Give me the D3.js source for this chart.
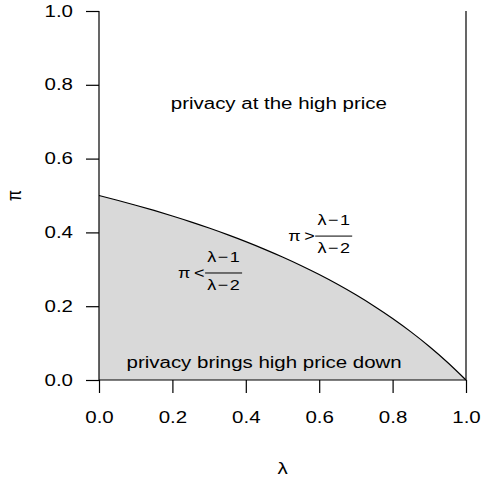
<!DOCTYPE html>
<html>
<head>
<meta charset="utf-8">
<script src="https://cdn.jsdelivr.net/npm/d3@7"></script>
<style>
  html, body { margin: 0; padding: 0; background: #fff; }
  svg text { font-family: "Liberation Sans", Arial, Helvetica, sans-serif; fill: #000; }
</style>
</head>
<body>
<svg id="chart" width="482" height="487"></svg>
<script>
// ---- data ----
const lambdaValues = [0, 0.05, 0.1, 0.15, 0.2, 0.25, 0.3, 0.35, 0.4, 0.45, 0.5, 0.55, 0.6, 0.65, 0.7, 0.75, 0.8, 0.85, 0.9, 0.95, 1.0];
const piValues = [0.5, 0.4872, 0.4737, 0.4595, 0.4444, 0.4286, 0.4118, 0.3939, 0.375, 0.3548, 0.3333, 0.3103, 0.2857, 0.2593, 0.2308, 0.2, 0.1667, 0.1304, 0.0909, 0.0476, 0];
const xTicks = [0, 0.2, 0.4, 0.6, 0.8, 1.0];
const yTicks = [0, 0.2, 0.4, 0.6, 0.8, 1.0];
const regionLabels = ["privacy at the high price", "privacy brings high price down"];
const regionLabelLambda = [0.49, 0.45];
const regionLabelPi = [0.75, 0.05];
const formulaOps = [">", "<"];
const formulaLambda = [0.60, 0.30];
const formulaPi = [0.39, 0.29];

// ---- layout ----
const SX = 1.28; // horizontal stretch of glyphs seen in the reference
const svg = d3.select("#chart");
const x = d3.scaleLinear().domain([0, 1]).range([99, 466]);
const y = d3.scaleLinear().domain([0, 1]).range([380, 11]);
const pts = lambdaValues.map((l, i) => [l, piValues[i]]);

function stretchedText(parent, px, py, str, anchor, size, sx) {
  return parent.append("text")
    .attr("transform", `translate(${px},${py}) scale(${sx || SX},1)`)
    .attr("text-anchor", anchor).attr("font-size", size).text(str);
}

// shaded region
const area = d3.area()
  .x(d => x(d[0])).y0(y(0)).y1(d => y(d[1]))
  .curve(d3.curveMonotoneX);
svg.append("path").datum(pts)
  .attr("d", area).attr("fill", "#d9d9d9").attr("stroke", "none");

// curve
const line = d3.line().x(d => x(d[0])).y(d => y(d[1])).curve(d3.curveMonotoneX);
svg.append("path").datum(pts)
  .attr("d", line).attr("fill", "none").attr("stroke", "#000").attr("stroke-width", 1.2);

// vertical line at lambda = 1
svg.append("line")
  .attr("x1", x(1)).attr("x2", x(1)).attr("y1", y(0)).attr("y2", y(1))
  .attr("stroke", "#000").attr("stroke-width", 1.2);

// axes
const xAxis = d3.axisBottom(x).tickValues(xTicks).tickFormat(d3.format(".1f")).tickSize(13).tickPadding(19);
const gx = svg.append("g").attr("transform", `translate(0,${y(0)})`).call(xAxis);
const yAxis = d3.axisLeft(y).tickValues(yTicks).tickFormat(d3.format(".1f")).tickSize(13).tickPadding(13);
const gy = svg.append("g").attr("transform", `translate(${x(0)},0)`).call(yAxis);
[gx, gy].forEach(g => {
  g.selectAll(".tick line").attr("stroke", "#000").attr("stroke-width", 1.2);
  g.selectAll(".tick text").attr("font-size", 16).attr("font-family", "Liberation Sans, Arial, sans-serif").attr("fill", "#000");
});
gx.select(".domain").attr("stroke", "#000").attr("stroke-width", 1.2).attr("d", `M${x(0)},0H${x(1)}`);
gy.select(".domain").attr("stroke", "#000").attr("stroke-width", 1.2).attr("d", `M0,${y(0)}V${y(1)}`);
gx.selectAll(".tick text").attr("transform", `scale(${SX},1)`);
gy.selectAll(".tick text").each(function () {
  const t = d3.select(this);
  const tx = +t.attr("x");
  t.attr("x", 0).attr("transform", `translate(${tx},0) scale(${SX},1)`);
});

// axis titles
stretchedText(svg, (x(0) + x(1)) / 2, 474, "λ", "middle", 16);
svg.append("text").attr("transform", `translate(21,${(y(0) + y(1)) / 2}) rotate(-90) scale(1,${SX})`)
  .attr("text-anchor", "middle").attr("font-size", 16).text("π");

// region labels
regionLabels.forEach((t, i) => {
  stretchedText(svg, x(regionLabelLambda[i]), y(regionLabelPi[i]) + 6, t, "middle", 16);
});

// formula labels  π > (λ−1)/(λ−2)
formulaOps.forEach((op, i) => {
  const cx = x(formulaLambda[i]), cy = y(formulaPi[i]);
  const g = svg.append("g").attr("transform", `translate(${cx},${cy})`);
  const fs = 15;
  stretchedText(g, -31, 5, "π\u2009" + op, "start", fs, 1.2);
  g.append("line").attr("x1", -4).attr("x2", 33).attr("y1", 0).attr("y2", 0)
    .attr("stroke", "#000").attr("stroke-width", 1);
  stretchedText(g, 14.5, -11, "λ\u200A−\u200A1", "middle", fs, 1.2);
  stretchedText(g, 14.5, 17, "λ\u200A−\u200A2", "middle", fs, 1.2);
});
</script>
</body>
</html>
